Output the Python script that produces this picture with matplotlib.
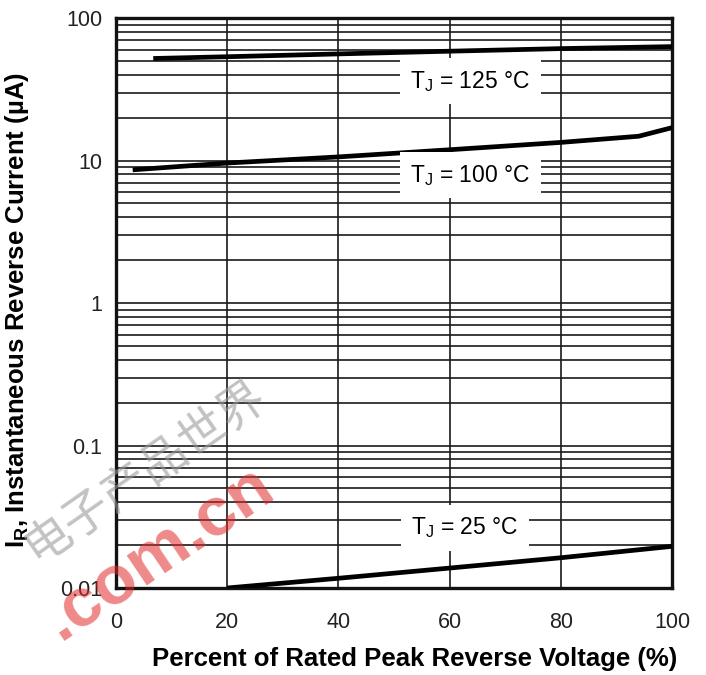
import numpy as np
import matplotlib.pyplot as plt
from matplotlib.ticker import LogLocator, FixedLocator, NullFormatter

# Datos (corriente inversa en µA)
x_125 = [6.7, 20, 40, 60, 80, 100]
y_125 = [52, 53.5, 56, 58.5, 61, 63]

x_100 = [3, 20, 40, 60, 80, 94, 100]
y_100 = [8.6, 9.6, 10.6, 11.9, 13.4, 14.8, 17]

x_25 = [20, 40, 60, 80, 100]
y_25 = [0.0100, 0.0117, 0.0138, 0.0163, 0.0196]

x_ticks = [0, 20, 40, 60, 80, 100]
y_ticks = [0.01, 0.1, 1, 10, 100]
y_tick_labels = ['0.01', '0.1', '1', '10', '100']

labels = ['T$_\\mathregular{J}$ = 125 °C', 'T$_\\mathregular{J}$ = 100 °C', 'T$_\\mathregular{J}$ = 25 °C']
label_pos = [(63.7, 36.0), (63.7, 7.9), (62.8, 0.0264)]

plt.rcParams['font.family'] = ['Liberation Sans', 'DejaVu Sans']

fig = plt.figure(figsize=(7.06, 6.75), dpi=100)
ax = fig.add_axes([0.1643, 0.1289, 0.7875, 0.8444])

ax.set_yscale('log')
ax.set_xlim(0, 100)
ax.set_ylim(0.01, 100)

# Rejilla
ax.xaxis.set_major_locator(FixedLocator(x_ticks))
ax.yaxis.set_major_locator(FixedLocator(y_ticks))
ax.yaxis.set_minor_locator(LogLocator(base=10, subs=np.arange(2, 10)))
ax.yaxis.set_minor_formatter(NullFormatter())
ax.set_yticklabels(y_tick_labels)
ax.grid(True, which='major', axis='x', color='#1a1a1a', lw=1.2)
ax.grid(True, which='both', axis='y', color='#1a1a1a', lw=1.2)
ax.tick_params(which='both', length=0, labelsize=15.5, colors='#222222')
ax.tick_params(axis='y', pad=10)
ax.tick_params(axis='x', pad=17)

for s in ax.spines.values():
    s.set_linewidth(2.4)
    s.set_color('#111111')

# Curvas
ax.plot(x_125, y_125, color='black', lw=3.4, solid_capstyle='butt', zorder=3)
ax.plot(x_100, y_100, color='black', lw=3.4, solid_capstyle='butt', zorder=3)
ax.plot(x_25, y_25, color='black', lw=3.4, solid_capstyle='butt', zorder=3)

for txt, (lx, ly) in zip(labels, label_pos):
    ax.text(lx, ly, txt, ha='center', va='center', fontsize=16.5, zorder=4,
            bbox=dict(boxstyle='square,pad=0.45', fc='white', ec='none'))

ax.set_xlabel('Percent of Rated Peak Reverse Voltage (%)', fontsize=18.5,
              fontweight='bold')
ax.xaxis.set_label_coords(0.538, -0.104)
ax.set_ylabel('I$_\\mathregular{R}$, Instantaneous Reverse Current (µA)', fontsize=18.5,
              fontweight='bold')
ax.yaxis.set_label_coords(-0.152, 0.488)

# Marca de agua
fig.text(0.205, 0.30, '电子产品世界', rotation=35, fontsize=34, color='#9a9a9a', alpha=0.6,
         family=['Noto Sans CJK SC', 'DejaVu Sans'], ha='center', va='center')
fig.text(0.225, 0.18, '.com.cn', rotation=34, fontsize=50, color='#e02828', alpha=0.55,
         fontweight='bold', ha='center', va='center')

fig.savefig('out.png', dpi=100)
